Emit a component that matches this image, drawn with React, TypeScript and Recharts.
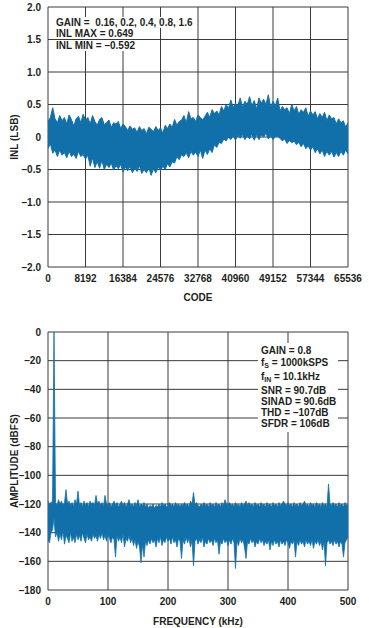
import { ComposedChart, Area, XAxis, YAxis, CartesianGrid, Label } from "recharts";

const BLUE = "#1170AA";
const GRID = "#3a3a3a";
const INK = "#231f20";
const FONT = "'Liberation Sans', Arial, sans-serif";

// INL plot, one point every 512 codes
const CODE_STEP = 512;
const CODE_TICKS = [0, 8192, 16384, 24576, 32768, 40960, 49152, 57344, 65536];
const INL_TICKS = [-2, -1.5, -1, -0.5, 0, 0.5, 1, 1.5, 2];

const inlHigh = [
  0.24, 0.3, 0.45, 0.28, 0.22, 0.33, 0.25, 0.3, 0.2, 0.34, 0.27, 0.17, 0.28, 0.32, 0.22, 0.35,
  0.26, 0.3, 0.2, 0.33, 0.24, 0.18, 0.27, 0.3, 0.19, 0.22, 0.26, 0.15, 0.22, 0.2, 0.24, 0.13,
  0.2, 0.16, 0.1, 0.17, 0.12, 0.14, 0.07, 0.16, 0.1, 0.13, 0.05, 0.15, 0.12, 0.08, 0.16, 0.1,
  0.14, 0.06, 0.18, 0.13, 0.2, 0.15, 0.27, 0.18, 0.24, 0.26, 0.33, 0.22, 0.39, 0.28, 0.3, 0.24,
  0.34, 0.3, 0.26, 0.32, 0.38, 0.3, 0.42, 0.36, 0.4, 0.34, 0.47, 0.4, 0.5, 0.44, 0.57, 0.45,
  0.52, 0.48, 0.6, 0.46, 0.55, 0.5, 0.62, 0.48, 0.56, 0.43, 0.6, 0.52, 0.58, 0.5, 0.65, 0.46,
  0.55, 0.48, 0.6, 0.4, 0.47, 0.42, 0.45, 0.36, 0.5, 0.4, 0.47, 0.35, 0.42, 0.38, 0.45, 0.32,
  0.4, 0.34, 0.39, 0.28, 0.36, 0.3, 0.38, 0.25, 0.34, 0.28, 0.3, 0.2, 0.28, 0.22, 0.25, 0.15,
  0.22,
];

const inlLow = [
  -0.18, -0.1, -0.25, -0.2, -0.3, -0.2, -0.28, -0.24, -0.32, -0.22, -0.3, -0.26, -0.33, -0.22, -0.3, -0.27,
  -0.34, -0.28, -0.45, -0.32, -0.47, -0.38, -0.48, -0.36, -0.5, -0.42, -0.47, -0.4, -0.51, -0.44, -0.49, -0.42,
  -0.54, -0.46, -0.52, -0.45, -0.55, -0.48, -0.53, -0.44, -0.56, -0.5, -0.55, -0.47, -0.59, -0.49, -0.55, -0.46,
  -0.52, -0.45, -0.5, -0.41, -0.46, -0.38, -0.4, -0.3, -0.35, -0.27, -0.3, -0.24, -0.32, -0.22, -0.28, -0.23,
  -0.3, -0.2, -0.33, -0.2, -0.27, -0.18, -0.24, -0.12, -0.16, -0.08, -0.1, -0.03, -0.06, 0.0, -0.04, 0.02,
  -0.05, 0.03, -0.02, 0.04, -0.04, 0.02, -0.03, 0.05, -0.05, 0.04, -0.04, 0.03, 0.0, 0.06, -0.03, 0.02,
  -0.04, 0.01, 0.01, -0.02, -0.06, -0.03, -0.1, -0.05, -0.09, -0.06, -0.12, -0.08, -0.15, -0.1, -0.18, -0.14,
  -0.2, -0.15, -0.24, -0.18, -0.26, -0.2, -0.3, -0.22, -0.28, -0.22, -0.31, -0.24, -0.3, -0.22, -0.28, -0.2,
  -0.26,
];

// FFT plot, one point every 2.5 kHz
const FREQ_STEP = 2.5;
const FREQ_TICKS = [0, 100, 200, 300, 400, 500];
const AMP_TICKS = [-180, -160, -140, -120, -100, -80, -60, -40, -20, 0];

const fftHigh = [
  -118, -120, -119, -118, 0, -119, -121, -117, -120, -118, -121, -119, -110, -120, -118, -121,
  -119, -122, -117, -120, -111, -121, -119, -122, -118, -121, -119, -122, -118, -120, -119, -121,
  -114, -120, -118, -121, -119, -122, -114, -120, -121, -119, -122, -120, -118, -121, -119, -122,
  -120, -118, -121, -119, -122, -120, -117, -121, -120, -122, -119, -121, -117, -122, -120, -121,
  -119, -122, -120, -123, -121, -122, -120, -123, -121, -122, -120, -122, -119, -121, -120, -122,
  -121, -119, -121, -120, -122, -119, -121, -120, -122, -120, -121, -119, -121, -120, -122, -118,
  -120, -112, -121, -119, -121, -122, -120, -121, -119, -121, -120, -122, -119, -121, -120, -122,
  -119, -121, -120, -122, -119, -121, -117, -120, -121, -119, -121, -120, -122, -119, -121, -120,
  -122, -119, -121, -120, -118, -121, -119, -121, -120, -122, -119, -121, -120, -122, -119, -121,
  -120, -122, -119, -121, -120, -122, -119, -121, -120, -122, -119, -121, -120, -118, -120, -121,
  -119, -121, -120, -122, -119, -121, -120, -122, -119, -121, -120, -118, -121, -120, -122, -119,
  -121, -120, -122, -119, -121, -120, -122, -119, -121, -120, -122, -106, -120, -121, -119, -121,
  -120, -122, -119, -121, -120, -122, -119, -121, -120,
];

const fftLow = [
  -145, -147, -140, -138, -130, -143, -140, -146, -141, -145, -139, -148, -142, -144, -147, -140,
  -146, -143, -147, -141, -145, -142, -146, -140, -144, -147, -141, -145, -143, -146, -141, -144,
  -142, -146, -141, -144, -140, -145, -142, -146, -141, -144, -147, -143, -145, -157, -142, -146,
  -143, -147, -141, -150, -144, -146, -142, -147, -144, -149, -145, -151, -146, -150, -161, -148,
  -157, -146, -149, -145, -148, -144, -147, -145, -150, -144, -147, -143, -149, -145, -147, -143,
  -146, -144, -148, -143, -147, -145, -150, -144, -146, -158, -145, -148, -143, -147, -144, -150,
  -145, -163, -146, -144, -148, -145, -147, -143, -150, -146, -148, -144, -147, -145, -149, -144,
  -147, -145, -155, -146, -148, -144, -147, -145, -149, -145, -148, -144, -147, -165, -146, -149,
  -144, -147, -145, -150, -158, -146, -148, -144, -147, -145, -150, -146, -148, -144, -147, -145,
  -149, -146, -148, -145, -152, -146, -149, -145, -148, -146, -150, -145, -148, -146, -149, -145,
  -147, -151, -146, -148, -145, -157, -146, -149, -145, -148, -146, -150, -145, -148, -146, -149,
  -145, -151, -146, -148, -145, -149, -146, -152, -146, -163, -147, -145, -148, -146, -149, -145,
  -148, -146, -150, -146, -148, -157, -147, -145, -143,
];

const inlData = inlHigh.map((h, i) => ({ code: i * CODE_STEP, range: [inlLow[i], h] }));
const fftData = fftHigh.map((h, i) => ({ freq: i * FREQ_STEP, range: [fftLow[i], h] }));

const tickStyle = { fill: INK, fontSize: 10, fontWeight: 700, fontFamily: FONT };
const titleStyle = { fill: INK, fontSize: 10, fontWeight: 700, fontFamily: FONT };

function dashed(v: number, digits: number) {
  if (v === 0) return "0";
  const s = Math.abs(v).toFixed(digits);
  return v < 0 ? "–" + s : s;
}

const noteStyle = {
  position: "absolute" as const,
  fontSize: 10,
  fontWeight: 700,
  lineHeight: "11px",
  height: 11,
  background: "#fff",
  whiteSpace: "nowrap" as const,
  color: INK,
};

export default function App() {
  return (
    <div
      style={{
        position: "absolute",
        left: 0,
        top: 0,
        width: 369,
        height: 628,
        background: "#fff",
        fontFamily: FONT,
        overflow: "hidden",
      }}
    >
      <div style={{ position: "absolute", left: 0, top: 0 }}>
        <ComposedChart width={369} height={310} data={inlData} margin={{ top: 7, right: 21, bottom: 0, left: 0 }}>
          <CartesianGrid stroke={GRID} strokeWidth={1} fill="none" />
          <XAxis
            dataKey="code"
            type="number"
            domain={[0, 65536]}
            ticks={CODE_TICKS}
            interval={0}
            height={43}
            tickLine={false}
            axisLine={false}
            tick={tickStyle}
          >
            <Label value="CODE" position="insideBottom" offset={9} style={titleStyle} />
          </XAxis>
          <YAxis
            type="number"
            domain={[-2, 2]}
            ticks={INL_TICKS}
            interval={0}
            width={48}
            tickLine={false}
            axisLine={false}
            tickMargin={1}
            tick={tickStyle}
            tickFormatter={(v: number) => dashed(v, 1)}
          >
            <Label
              value="INL (LSB)"
              angle={-90}
              position="insideLeft"
              offset={14}
              style={{ ...titleStyle, textAnchor: "middle" }}
            />
          </YAxis>
          <Area
            dataKey="range"
            type="linear"
            stroke={BLUE}
            strokeWidth={1}
            fill={BLUE}
            fillOpacity={1}
            dot={false}
            activeDot={false}
            isAnimationActive={false}
          />
        </ComposedChart>
      </div>

      <div style={{ ...noteStyle, left: 53, top: 16.5, padding: "0 3px" }}>GAIN =&nbsp; 0.16, 0.2, 0.4, 0.8, 1.6</div>
      <div style={{ ...noteStyle, left: 53, top: 27.8, padding: "0 3px" }}>INL MAX = 0.649</div>
      <div style={{ ...noteStyle, left: 53, top: 39.5, padding: "0 3px" }}>INL MIN = –0.592</div>

      <div style={{ position: "absolute", left: 0, top: 310 }}>
        <ComposedChart width={369} height={318} data={fftData} margin={{ top: 22, right: 21, bottom: 0, left: 0 }}>
          <CartesianGrid stroke={GRID} strokeWidth={1} fill="none" />
          <XAxis
            dataKey="freq"
            type="number"
            domain={[0, 500]}
            ticks={FREQ_TICKS}
            interval={0}
            height={38}
            tickLine={false}
            axisLine={false}
            tick={tickStyle}
          >
            <Label value="FREQUENCY (kHz)" position="insideBottom" offset={3} style={titleStyle} />
          </XAxis>
          <YAxis
            type="number"
            domain={[-180, 0]}
            ticks={AMP_TICKS}
            interval={0}
            width={48}
            tickLine={false}
            axisLine={false}
            tickMargin={1}
            tick={tickStyle}
            tickFormatter={(v: number) => dashed(v, 0)}
          >
            <Label
              value="AMPLITUDE (dBFS)"
              angle={-90}
              position="insideLeft"
              offset={14}
              style={{ ...titleStyle, textAnchor: "middle" }}
            />
          </YAxis>
          <Area
            dataKey="range"
            type="linear"
            stroke={BLUE}
            strokeWidth={0.8}
            fill={BLUE}
            fillOpacity={1}
            dot={false}
            activeDot={false}
            isAnimationActive={false}
          />
        </ComposedChart>
      </div>

      <div style={{ position: "absolute", left: 258, top: 343, width: 80, height: 89, background: "#fff" }} />
      <div style={{ ...noteStyle, left: 261, top: 345.2, background: "none" }}>GAIN = 0.8</div>
      <div style={{ ...noteStyle, left: 261, top: 357, background: "none" }}>
        f<sub style={{ fontSize: 7, verticalAlign: "-2px" }}>S</sub> = 1000kSPS
      </div>
      <div style={{ ...noteStyle, left: 261, top: 371, background: "none" }}>
        f<sub style={{ fontSize: 7, verticalAlign: "-2px" }}>IN</sub> = 10.1kHz
      </div>
      <div style={{ ...noteStyle, left: 261, top: 384.8, background: "none" }}>SNR = 90.7dB</div>
      <div style={{ ...noteStyle, left: 261, top: 396.2, background: "none" }}>SINAD = 90.6dB</div>
      <div style={{ ...noteStyle, left: 261, top: 407.2, background: "none" }}>THD = –107dB</div>
      <div style={{ ...noteStyle, left: 261, top: 417.8, background: "none" }}>SFDR = 106dB</div>
    </div>
  );
}
